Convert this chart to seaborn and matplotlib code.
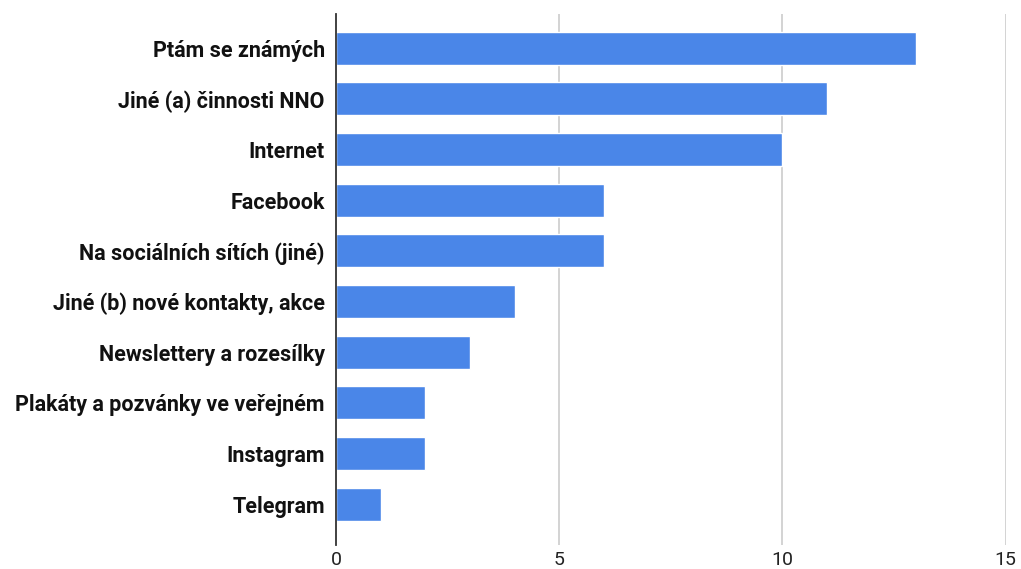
import matplotlib
matplotlib.use("Agg")
import matplotlib.pyplot as plt
import seaborn as sns
import pandas as pd

# Data
categories = [
    "Ptám se známých",
    "Jiné (a) činnosti NNO",
    "Internet",
    "Facebook",
    "Na sociálních sítích (jiné)",
    "Jiné (b) nové kontakty, akce",
    "Newslettery a rozesílky",
    "Plakáty a pozvánky ve veřejném",
    "Instagram",
    "Telegram",
]
counts = [13, 11, 10, 6, 6, 4, 3, 2, 2, 1]
x_ticks = [0, 5, 10, 15]

df = pd.DataFrame({"Zdroj": categories, "Počet": counts})

sns.set_style("white")
plt.rcParams['font.family'] = ['Roboto', 'DejaVu Sans']

fig = plt.figure(figsize=(10.21, 5.69), dpi=100)
ax = fig.add_axes([0.329, 0.042, 0.656, 0.933])

ax.set_axisbelow(True)
for t in x_ticks[1:]:
    ax.axvline(t, color="#cccccc", lw=1.2, zorder=0)

sns.barplot(data=df, x="Počet", y="Zdroj", color="#4a86e8", saturation=1,
            width=0.65, ax=ax, zorder=2)

ax.set_xlim(0, 15)
ax.set_ylim(9.81, -0.67)
ax.set_xticks(x_ticks)
ax.set_xlabel("")
ax.set_ylabel("")
for s in ["top", "right", "bottom"]:
    ax.spines[s].set_visible(False)
ax.spines["left"].set_color("#333333")
ax.spines["left"].set_linewidth(1.3)
ax.spines["left"].set_zorder(3)

ax.tick_params(axis="y", length=0, pad=8, labelsize=15.5, labelcolor="#111111")
ax.tick_params(axis="x", length=0, pad=4, labelsize=14, labelcolor="#222222")
for lab in ax.get_yticklabels():
    lab.set_fontweight("bold")

fig.savefig("out.png", dpi=100)
